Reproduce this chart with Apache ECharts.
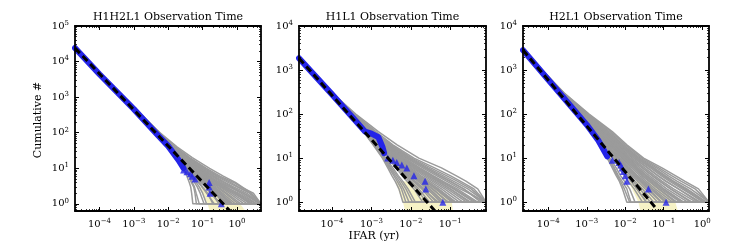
<!DOCTYPE html>
<html><head><meta charset="utf-8">
<script src="https://cdn.jsdelivr.net/npm/echarts@6/dist/echarts.min.js"></script>
<style>html,body{margin:0;padding:0;background:#fff}#c{width:747px;height:249px}</style>
</head><body><div id="c"></div>
<script>
// ---------------- data ----------------
const titles = ['H1H2L1 Observation Time', 'H1L1 Observation Time', 'H2L1 Observation Time'];
const yName = 'Cumulative #';
const xName = 'IFAR (yr)';

// axis ranges
const xRange1 = [1.94e-5, 5.0], yRange1 = [0.63, 1e5];
const xRange2 = [1.45e-5, 0.81], yRange2 = [0.63, 1e4];
const xRange3 = [2.2e-5, 1.5], yRange3 = [0.63, 1e4];

// major tick labels
const xTicks1 = [1e-4, 1e-3, 1e-2, 1e-1, 1];
const xTicks2 = [1e-4, 1e-3, 1e-2, 1e-1];
const xTicks3 = [1e-4, 1e-3, 1e-2, 1e-1, 1];
const yTicks1 = [1, 10, 100, 1e3, 1e4, 1e5];
const yTicks2 = [1, 10, 100, 1e3, 1e4];
const yTicks3 = [1, 10, 100, 1e3, 1e4];

// background trials (gray): cumulative counts and IFAR values per trial
const grayN1 = [24000, 1000, 100, 40, 20, 10, 6, 4, 3, 2, 1, 1];
const grayIfar1 = [
  [1.94e-5, 4.5e-4, 4.2e-3, 0.010, 0.019, 0.027, 0.035, 0.041, 0.045, 0.048, 0.052, 5],
  [1.94e-5, 4.5e-4, 4.3e-3, 0.0105, 0.02, 0.031, 0.042, 0.05, 0.058, 0.065, 0.08, 5],
  [1.94e-5, 4.6e-4, 4.4e-3, 0.011, 0.021, 0.036, 0.05, 0.065, 0.08, 0.1, 0.13, 5],
  [1.94e-5, 4.6e-4, 4.5e-3, 0.011, 0.022, 0.04, 0.06, 0.08, 0.1, 0.14, 0.2, 5],
  [1.94e-5, 4.6e-4, 4.5e-3, 0.0115, 0.023, 0.043, 0.07, 0.1, 0.13, 0.18, 0.3, 5],
  [1.94e-5, 4.6e-4, 4.6e-3, 0.0115, 0.023, 0.046, 0.075, 0.11, 0.15, 0.22, 0.45, 5],
  [1.94e-5, 4.6e-4, 4.6e-3, 0.012, 0.024, 0.05, 0.085, 0.13, 0.18, 0.3, 0.6, 5],
  [1.94e-5, 4.6e-4, 4.7e-3, 0.012, 0.025, 0.055, 0.1, 0.16, 0.22, 0.38, 0.9, 5],
  [1.94e-5, 4.7e-4, 4.8e-3, 0.0125, 0.027, 0.06, 0.11, 0.19, 0.28, 0.5, 1.3, 5],
  [1.94e-5, 4.7e-4, 4.9e-3, 0.013, 0.029, 0.07, 0.13, 0.23, 0.35, 0.7, 2.0, 5],
  [1.94e-5, 4.7e-4, 5.0e-3, 0.0135, 0.031, 0.08, 0.16, 0.3, 0.5, 1.0, 3.0, 5],
  [1.94e-5, 4.8e-4, 5.2e-3, 0.014, 0.034, 0.09, 0.2, 0.4, 0.7, 1.5, 4.5, 5],
  [1.94e-5, 4.8e-4, 5.4e-3, 0.015, 0.037, 0.11, 0.25, 0.55, 1.0, 2.3, 5, 5],
  [1.94e-5, 4.9e-4, 5.6e-3, 0.016, 0.042, 0.13, 0.32, 0.8, 1.3, 3.0, 5, 5],
  [1.94e-5, 5.0e-4, 5.8e-3, 0.018, 0.05, 0.16, 0.4, 0.9, 1.4, 2.6, 5, 5],
  [1.94e-5, 4.6e-4, 4.4e-3, 0.0105, 0.02, 0.038, 0.065, 0.1, 0.16, 0.3, 0.7, 5],
  [1.94e-5, 4.7e-4, 4.8e-3, 0.012, 0.026, 0.052, 0.08, 0.12, 0.17, 0.25, 0.38, 5],
  [1.94e-5, 4.7e-4, 4.9e-3, 0.0125, 0.028, 0.065, 0.14, 0.3, 0.6, 1.6, 5, 5],
  [1.94e-5, 4.6e-4, 4.5e-3, 0.011, 0.022, 0.045, 0.09, 0.18, 0.35, 0.9, 2.5, 5],
  [1.94e-5, 4.6e-4, 4.6e-3, 0.0115, 0.024, 0.058, 0.12, 0.25, 0.45, 1.1, 3.5, 5],
  [1.94e-5, 4.5e-4, 4.3e-3, 0.0105, 0.02, 0.033, 0.046, 0.058, 0.07, 0.085, 0.11, 5],
  [1.94e-5, 4.6e-4, 4.4e-3, 0.011, 0.021, 0.038, 0.055, 0.075, 0.095, 0.13, 0.22, 5],
  [1.94e-5, 4.6e-4, 4.5e-3, 0.0112, 0.022, 0.042, 0.065, 0.09, 0.12, 0.17, 0.35, 5],
  [1.94e-5, 4.6e-4, 4.6e-3, 0.0118, 0.024, 0.048, 0.08, 0.12, 0.16, 0.26, 0.5, 5],
  [1.94e-5, 4.7e-4, 4.7e-3, 0.012, 0.025, 0.053, 0.095, 0.15, 0.21, 0.34, 0.75, 5],
  [1.94e-5, 4.7e-4, 4.8e-3, 0.0125, 0.026, 0.058, 0.105, 0.17, 0.25, 0.45, 1.1, 5],
  [1.94e-5, 4.7e-4, 4.9e-3, 0.013, 0.028, 0.062, 0.12, 0.21, 0.32, 0.6, 1.6, 5],
  [1.94e-5, 4.8e-4, 5.0e-3, 0.0135, 0.03, 0.075, 0.15, 0.27, 0.42, 0.85, 2.4, 5],
  [1.94e-5, 4.8e-4, 5.1e-3, 0.014, 0.033, 0.085, 0.18, 0.35, 0.6, 1.3, 3.8, 5],
  [1.94e-5, 4.9e-4, 5.3e-3, 0.0145, 0.036, 0.1, 0.22, 0.45, 0.8, 1.9, 5, 5],
  [1.94e-5, 4.9e-4, 5.5e-3, 0.0155, 0.04, 0.12, 0.28, 0.65, 1.1, 2.6, 5, 5],
  [1.94e-5, 4.5e-4, 4.2e-3, 0.0102, 0.019, 0.029, 0.04, 0.047, 0.055, 0.06, 0.066, 5],
  [1.94e-5, 4.6e-4, 4.5e-3, 0.0113, 0.0225, 0.044, 0.068, 0.095, 0.14, 0.24, 0.55, 5],
  [1.94e-5, 4.7e-4, 4.7e-3, 0.0122, 0.025, 0.054, 0.09, 0.14, 0.19, 0.32, 0.65, 5],
  [1.94e-5, 4.8e-4, 5.0e-3, 0.0132, 0.03, 0.068, 0.13, 0.24, 0.4, 0.8, 2.8, 5]
];
const grayN2 = [1860, 300, 100, 40, 20, 10, 6, 4, 3, 2, 1, 1];
const grayIfar2 = [
  [1.45e-5, 8.8e-5, 2.6e-4, 6.2e-4, 1.1e-3, 1.9e-3, 2.6e-3, 3.3e-3, 4.0e-3, 5.0e-3, 6.3e-3, 0.81],
  [1.45e-5, 8.8e-5, 2.6e-4, 6.4e-4, 1.2e-3, 2.1e-3, 3.0e-3, 4.0e-3, 5.0e-3, 6.5e-3, 9e-3, 0.81],
  [1.45e-5, 8.9e-5, 2.7e-4, 6.6e-4, 1.25e-3, 2.3e-3, 3.5e-3, 4.8e-3, 6.2e-3, 8.5e-3, 0.013, 0.81],
  [1.45e-5, 9e-5, 2.7e-4, 6.8e-4, 1.35e-3, 2.6e-3, 4.2e-3, 6.0e-3, 8e-3, 0.012, 0.02, 0.81],
  [1.45e-5, 9e-5, 2.75e-4, 7e-4, 1.4e-3, 2.9e-3, 4.8e-3, 7.5e-3, 0.01, 0.016, 0.03, 0.81],
  [1.45e-5, 9e-5, 2.8e-4, 7.2e-4, 1.5e-3, 3.2e-3, 5.5e-3, 9e-3, 0.013, 0.022, 0.045, 0.81],
  [1.45e-5, 9.1e-5, 2.85e-4, 7.5e-4, 1.6e-3, 3.6e-3, 6.5e-3, 0.011, 0.017, 0.03, 0.07, 0.81],
  [1.45e-5, 9.2e-5, 2.9e-4, 8e-4, 1.75e-3, 4.1e-3, 8e-3, 0.014, 0.022, 0.042, 0.11, 0.81],
  [1.45e-5, 9.3e-5, 3e-4, 8.5e-4, 1.9e-3, 4.8e-3, 0.01, 0.018, 0.03, 0.06, 0.17, 0.81],
  [1.45e-5, 9.4e-5, 3.1e-4, 9e-4, 2.1e-3, 5.6e-3, 0.012, 0.024, 0.04, 0.085, 0.26, 0.81],
  [1.45e-5, 9.5e-5, 3.2e-4, 9.6e-4, 2.3e-3, 6.5e-3, 0.015, 0.032, 0.055, 0.12, 0.4, 0.81],
  [1.45e-5, 9.6e-5, 3.3e-4, 1.05e-3, 2.6e-3, 7.8e-3, 0.02, 0.045, 0.08, 0.18, 0.81, 0.81],
  [1.45e-5, 9.8e-5, 3.5e-4, 1.15e-3, 3e-3, 9.5e-3, 0.027, 0.065, 0.12, 0.28, 0.81, 0.81],
  [1.45e-5, 1e-4, 3.7e-4, 1.3e-3, 3.5e-3, 0.012, 0.04, 0.1, 0.18, 0.4, 0.81, 0.81],
  [1.45e-5, 1.02e-4, 4e-4, 1.5e-3, 4.5e-3, 0.016, 0.06, 0.14, 0.25, 0.5, 0.81, 0.81],
  [1.45e-5, 9.1e-5, 2.8e-4, 7.4e-4, 1.6e-3, 3.9e-3, 7.5e-3, 0.013, 0.02, 0.035, 0.09, 0.81],
  [1.45e-5, 9.2e-5, 3e-4, 8.2e-4, 1.8e-3, 4.5e-3, 9e-3, 0.016, 0.025, 0.05, 0.13, 0.81],
  [1.45e-5, 9.4e-5, 3.1e-4, 9.2e-4, 2.2e-3, 6e-3, 0.014, 0.028, 0.05, 0.1, 0.3, 0.81],
  [1.45e-5, 9e-5, 2.75e-4, 7e-4, 1.45e-3, 3e-3, 5e-3, 8e-3, 0.012, 0.02, 0.05, 0.81],
  [1.45e-5, 9.6e-5, 3.4e-4, 1.1e-3, 2.8e-3, 8.5e-3, 0.024, 0.055, 0.1, 0.22, 0.6, 0.81],
  [1.45e-5, 8.9e-5, 2.65e-4, 6.5e-4, 1.22e-3, 2.2e-3, 3.2e-3, 4.4e-3, 5.6e-3, 7.5e-3, 0.011, 0.81],
  [1.45e-5, 9e-5, 2.72e-4, 6.9e-4, 1.38e-3, 2.75e-3, 4.5e-3, 6.8e-3, 9e-3, 0.014, 0.025, 0.81],
  [1.45e-5, 9e-5, 2.78e-4, 7.1e-4, 1.45e-3, 3.05e-3, 5.2e-3, 8.2e-3, 0.0115, 0.019, 0.038, 0.81],
  [1.45e-5, 9.1e-5, 2.82e-4, 7.3e-4, 1.55e-3, 3.4e-3, 6e-3, 0.01, 0.015, 0.026, 0.058, 0.81],
  [1.45e-5, 9.2e-5, 2.88e-4, 7.8e-4, 1.7e-3, 3.8e-3, 7.2e-3, 0.0125, 0.019, 0.036, 0.085, 0.81],
  [1.45e-5, 9.3e-5, 2.95e-4, 8.3e-4, 1.85e-3, 4.4e-3, 8.8e-3, 0.016, 0.026, 0.05, 0.14, 0.81],
  [1.45e-5, 9.3e-5, 3.05e-4, 8.8e-4, 2e-3, 5.2e-3, 0.011, 0.021, 0.035, 0.072, 0.21, 0.81],
  [1.45e-5, 9.4e-5, 3.15e-4, 9.3e-4, 2.2e-3, 6e-3, 0.013, 0.027, 0.046, 0.1, 0.33, 0.81],
  [1.45e-5, 9.5e-5, 3.25e-4, 1e-3, 2.45e-3, 7e-3, 0.017, 0.037, 0.065, 0.15, 0.5, 0.81],
  [1.45e-5, 9.7e-5, 3.4e-4, 1.1e-3, 2.75e-3, 8.6e-3, 0.023, 0.052, 0.095, 0.22, 0.7, 0.81],
  [1.45e-5, 9.9e-5, 3.6e-4, 1.2e-3, 3.2e-3, 0.0105, 0.032, 0.08, 0.15, 0.34, 0.81, 0.81],
  [1.45e-5, 8.8e-5, 2.6e-4, 6.3e-4, 1.15e-3, 2e-3, 2.8e-3, 3.7e-3, 4.5e-3, 5.8e-3, 7.5e-3, 0.81],
  [1.45e-5, 9e-5, 2.75e-4, 7.05e-4, 1.42e-3, 3e-3, 5.8e-3, 0.0105, 0.017, 0.03, 0.065, 0.81],
  [1.45e-5, 9.2e-5, 2.9e-4, 8e-4, 1.8e-3, 4.3e-3, 8.5e-3, 0.015, 0.024, 0.045, 0.12, 0.81],
  [1.45e-5, 9.5e-5, 3.2e-4, 9.8e-4, 2.4e-3, 6.8e-3, 0.016, 0.034, 0.06, 0.13, 0.45, 0.81]
];
const grayN3 = [2840, 300, 100, 40, 20, 10, 6, 4, 3, 2, 1, 1];
const grayIfar3 = [
  [2.2e-5, 2e-4, 5.8e-4, 1.3e-3, 2.2e-3, 3.4e-3, 4.6e-3, 5.8e-3, 7e-3, 8.5e-3, 0.011, 1.5],
  [2.2e-5, 2e-4, 5.9e-4, 1.35e-3, 2.4e-3, 4e-3, 5.8e-3, 7.5e-3, 9.5e-3, 0.013, 0.018, 1.5],
  [2.2e-5, 2e-4, 6e-4, 1.4e-3, 2.6e-3, 4.6e-3, 7e-3, 9.5e-3, 0.012, 0.017, 0.028, 1.5],
  [2.2e-5, 2e-4, 6.1e-4, 1.45e-3, 2.8e-3, 5.2e-3, 8.5e-3, 0.012, 0.016, 0.024, 0.045, 1.5],
  [2.2e-5, 2.05e-4, 6.3e-4, 1.55e-3, 3.1e-3, 6e-3, 0.01, 0.015, 0.021, 0.033, 0.07, 1.5],
  [2.2e-5, 2.1e-4, 6.5e-4, 1.7e-3, 3.5e-3, 7e-3, 0.012, 0.019, 0.027, 0.045, 0.11, 1.5],
  [2.2e-5, 2.15e-4, 6.8e-4, 1.85e-3, 4e-3, 8.3e-3, 0.015, 0.024, 0.035, 0.06, 0.17, 1.5],
  [2.2e-5, 2.2e-4, 7.2e-4, 2.05e-3, 4.6e-3, 0.01, 0.019, 0.031, 0.047, 0.085, 0.27, 1.5],
  [2.2e-5, 2.25e-4, 7.6e-4, 2.3e-3, 5.3e-3, 0.012, 0.024, 0.042, 0.065, 0.12, 0.42, 1.5],
  [2.2e-5, 2.3e-4, 8.2e-4, 2.6e-3, 6.2e-3, 0.015, 0.032, 0.058, 0.09, 0.18, 0.7, 1.5],
  [2.2e-5, 2.4e-4, 9e-4, 3.1e-3, 7.5e-3, 0.019, 0.045, 0.085, 0.14, 0.3, 1.1, 1.5],
  [2.2e-5, 2.5e-4, 1e-3, 3.8e-3, 9e-3, 0.024, 0.065, 0.13, 0.22, 0.5, 1.5, 1.5],
  [2.2e-5, 2.6e-4, 1.15e-3, 4.6e-3, 0.011, 0.03, 0.09, 0.2, 0.35, 0.8, 1.5, 1.5],
  [2.2e-5, 2.1e-4, 6.4e-4, 1.6e-3, 3.3e-3, 6.6e-3, 0.011, 0.017, 0.025, 0.04, 0.09, 1.5],
  [2.2e-5, 2.2e-4, 7e-4, 1.95e-3, 4.3e-3, 9e-3, 0.017, 0.028, 0.042, 0.075, 0.22, 1.5],
  [2.2e-5, 2.3e-4, 7.9e-4, 2.45e-3, 5.8e-3, 0.013, 0.028, 0.05, 0.078, 0.15, 0.55, 1.5],
  [2.2e-5, 2.35e-4, 8.6e-4, 2.8e-3, 6.8e-3, 0.017, 0.038, 0.07, 0.11, 0.24, 0.9, 1.5],
  [2.2e-5, 2e-4, 6e-4, 1.42e-3, 2.7e-3, 5e-3, 7.8e-3, 0.011, 0.014, 0.02, 0.035, 1.5],
  [2.2e-5, 2.2e-4, 7.4e-4, 2.2e-3, 5e-3, 0.011, 0.021, 0.036, 0.055, 0.1, 0.33, 1.5],
  [2.2e-5, 2.45e-4, 9.5e-4, 3.4e-3, 8.2e-3, 0.021, 0.055, 0.11, 0.18, 0.4, 1.3, 1.5],
  [2.2e-5, 2e-4, 5.85e-4, 1.32e-3, 2.3e-3, 3.7e-3, 5.2e-3, 6.6e-3, 8.2e-3, 0.011, 0.014, 1.5],
  [2.2e-5, 2e-4, 6e-4, 1.42e-3, 2.7e-3, 4.9e-3, 7.6e-3, 0.011, 0.014, 0.02, 0.036, 1.5],
  [2.2e-5, 2.05e-4, 6.2e-4, 1.5e-3, 2.95e-3, 5.6e-3, 9.2e-3, 0.0135, 0.018, 0.028, 0.055, 1.5],
  [2.2e-5, 2.08e-4, 6.4e-4, 1.62e-3, 3.3e-3, 6.5e-3, 0.011, 0.017, 0.024, 0.038, 0.085, 1.5],
  [2.2e-5, 2.12e-4, 6.6e-4, 1.78e-3, 3.8e-3, 7.6e-3, 0.0135, 0.021, 0.031, 0.052, 0.14, 1.5],
  [2.2e-5, 2.18e-4, 7e-4, 1.95e-3, 4.3e-3, 9.2e-3, 0.017, 0.027, 0.041, 0.072, 0.2, 1.5],
  [2.2e-5, 2.22e-4, 7.4e-4, 2.18e-3, 4.9e-3, 0.011, 0.021, 0.036, 0.056, 0.1, 0.32, 1.5],
  [2.2e-5, 2.28e-4, 7.9e-4, 2.45e-3, 5.7e-3, 0.0135, 0.028, 0.05, 0.078, 0.15, 0.5, 1.5],
  [2.2e-5, 2.35e-4, 8.5e-4, 2.85e-3, 6.8e-3, 0.017, 0.038, 0.07, 0.115, 0.24, 0.8, 1.5],
  [2.2e-5, 2.45e-4, 9.5e-4, 3.4e-3, 8.2e-3, 0.022, 0.055, 0.1, 0.17, 0.38, 1.2, 1.5],
  [2.2e-5, 2.55e-4, 1.08e-3, 4.2e-3, 0.01, 0.027, 0.075, 0.16, 0.28, 0.65, 1.5, 1.5],
  [2.2e-5, 2e-4, 5.8e-4, 1.3e-3, 2.25e-3, 3.6e-3, 5e-3, 6.2e-3, 7.5e-3, 9.5e-3, 0.013, 1.5],
  [2.2e-5, 2.1e-4, 6.5e-4, 1.68e-3, 3.45e-3, 6.9e-3, 0.012, 0.019, 0.028, 0.048, 0.12, 1.5],
  [2.2e-5, 2.2e-4, 7.2e-4, 2.1e-3, 4.7e-3, 0.0105, 0.02, 0.034, 0.052, 0.095, 0.3, 1.5],
  [2.2e-5, 2.4e-4, 9.2e-4, 3.2e-3, 7.8e-3, 0.02, 0.05, 0.095, 0.16, 0.34, 1.05, 1.5]
];

// foreground (blue): dense part drawn as a band, sparse loud events as triangles
const blueBandX1 = [1.94e-5, 1e-4, 1e-3, 5e-3, 0.01, 0.02, 0.028];
const blueBandY1 = [24000, 4400, 460, 85, 42, 17, 10];
const blueTriX1 = [0.028, 0.035, 0.044, 0.05, 0.06, 0.155, 0.155, 0.165, 0.35];
const blueTriY1 = [9, 8, 7, 6, 5, 4, 3, 2, 1];

const blueBandX2 = [1.45e-5, 1e-4, 4e-4, 6.9e-4, 1e-3, 1.5e-3, 1.9e-3, 2.1e-3];
const blueBandY2 = [1860, 280, 70, 40, 36, 30, 18, 13];
const blueTriX2 = [2.6e-3, 3.5e-3, 4.4e-3, 5.9e-3, 7.9e-3, 0.012, 0.023, 0.024, 0.065];
const blueTriY2 = [10, 9, 8, 7, 6, 4, 3, 2, 1];

const blueBandX3 = [2.2e-5, 1e-4, 1e-3, 2e-3, 3.4e-3];
const blueBandY3 = [2840, 600, 57, 25, 11];
const blueTriX3 = [4.6e-3, 6.9e-3, 7.6e-3, 8.3e-3, 8.9e-3, 0.01, 0.011, 0.04, 0.115];
const blueTriY3 = [9, 8, 7, 6, 5, 4, 3, 2, 1];

// expected background (black dashed)
const dashX1 = [1.94e-5, 0.63], dashY1 = [24000, 0.63];
const dashX2 = [1.45e-5, 0.041], dashY2 = [1860, 0.63];
const dashX3 = [2.2e-5, 0.072], dashY3 = [2840, 0.63];

// expected-background error band (pale yellow), polygon vertices [ifar, count]
const bandX1 = [0.08, 0.14, 0.2, 3.2, 1.22, 0.4];
const bandY1 = [3, 1, 0.3, 0.3, 1, 3];
const bandX2 = [0.004, 6.3e-3, 0.009, 0.13, 0.11, 0.03];
const bandY2 = [3, 1, 0.3, 0.3, 1, 3];
const bandX3 = [0.012, 0.022, 0.03, 0.3, 0.2, 0.06];
const bandY3 = [3, 1, 0.3, 0.3, 1, 3];

// ---------------- chart ----------------
const FONT = 'DejaVu Serif';
const BLUE = '#2424e8';
const panels = [
  {left: 75, width: 186, xr: xRange1, yr: yRange1, xt: xTicks1, yt: yTicks1, gN: grayN1, gI: grayIfar1,
   bbx: blueBandX1, bby: blueBandY1, tx: blueTriX1, ty: blueTriY1, dx: dashX1, dy: dashY1, px: bandX1, py: bandY1},
  {left: 299, width: 187, xr: xRange2, yr: yRange2, xt: xTicks2, yt: yTicks2, gN: grayN2, gI: grayIfar2,
   bbx: blueBandX2, bby: blueBandY2, tx: blueTriX2, ty: blueTriY2, dx: dashX2, dy: dashY2, px: bandX2, py: bandY2},
  {left: 523, width: 186, xr: xRange3, yr: yRange3, xt: xTicks3, yt: yTicks3, gN: grayN3, gI: grayIfar3,
   bbx: blueBandX3, bby: blueBandY3, tx: blueTriX3, ty: blueTriY3, dx: dashX3, dy: dashY3, px: bandX3, py: bandY3}
];
const TOP = 26, HEIGHT = 185;

function minors(lo, hi) {
  const out = [];
  for (let e = Math.floor(Math.log10(lo)); e <= Math.ceil(Math.log10(hi)); e++) {
    for (let k = 2; k <= 9; k++) {
      const v = k * Math.pow(10, e);
      if (v > lo * 1.0001 && v < hi * 0.9999) out.push(v);
    }
  }
  return out;
}
function fmt(v) {
  const e = Math.round(Math.log10(v));
  return '{b|10}{s|' + (e < 0 ? '\u2212' + (-e) : e) + '}';
}
const rich = {
  b: {fontFamily: FONT, fontSize: 10, color: '#000', lineHeight: 13},
  s: {fontFamily: FONT, fontSize: 7, color: '#000', lineHeight: 7, verticalAlign: 'top'}
};
const zip = (a, b) => a.map((v, i) => [v, b[i]]);

const grids = [], xAxes = [], yAxes = [], series = [];
panels.forEach((p, gi) => {
  grids.push({left: p.left, top: TOP, width: p.width, height: HEIGHT, outerBoundsMode: 'none'});
  const xMin = minors(p.xr[0], p.xr[1]);
  const yMin = minors(p.yr[0], p.yr[1]);
  const baseX = {gridIndex: gi, type: 'log', logBase: 10, min: p.xr[0], max: p.xr[1], splitLine: {show: false}, z: 10};
  const baseY = {gridIndex: gi, type: 'log', logBase: 10, min: p.yr[0], max: p.yr[1], splitLine: {show: false}, z: 10};
  const line = {show: true, onZero: false, lineStyle: {color: '#000', width: 1.8}};
  const majT = (vals) => ({show: true, inside: true, length: 4, customValues: vals, lineStyle: {color: '#000', width: 1}});
  const minT = (vals) => ({show: true, inside: true, length: 2, customValues: vals, lineStyle: {color: '#000', width: 0.8}});
  xAxes.push(Object.assign({}, baseX, {position: 'bottom', axisLine: line, axisTick: majT(p.xt),
    axisLabel: {show: true, customValues: p.xt, formatter: fmt, rich: rich, margin: 7}}));
  xAxes.push(Object.assign({}, baseX, {position: 'bottom', axisLine: {show: false}, axisTick: minT(xMin),
    axisLabel: {show: false, customValues: xMin}}));
  xAxes.push(Object.assign({}, baseX, {position: 'top', axisLine: line, axisTick: majT(p.xt),
    axisLabel: {show: false, customValues: p.xt}}));
  xAxes.push(Object.assign({}, baseX, {position: 'top', axisLine: {show: false}, axisTick: minT(xMin),
    axisLabel: {show: false, customValues: xMin}}));
  yAxes.push(Object.assign({}, baseY, {position: 'left', axisLine: line, axisTick: majT(p.yt),
    axisLabel: {show: true, customValues: p.yt, formatter: fmt, rich: rich, margin: 6}}));
  yAxes.push(Object.assign({}, baseY, {position: 'left', axisLine: {show: false}, axisTick: minT(yMin),
    axisLabel: {show: false, customValues: yMin}}));
  yAxes.push(Object.assign({}, baseY, {position: 'right', axisLine: line, axisTick: majT(p.yt),
    axisLabel: {show: false, customValues: p.yt}}));
  yAxes.push(Object.assign({}, baseY, {position: 'right', axisLine: {show: false}, axisTick: minT(yMin),
    axisLabel: {show: false, customValues: yMin}}));

  const xi = gi * 4, yi = gi * 4;
  const poly = zip(p.px, p.py);
  series.push({
    type: 'custom', xAxisIndex: xi, yAxisIndex: yi, clip: true, silent: true, z: 1,
    data: poly,
    renderItem: function (params, api) {
      if (params.dataIndex !== 0) return null;
      return {type: 'polygon', shape: {points: poly.map(pt => api.coord(pt))},
              style: {fill: '#f6f2c6', stroke: null}};
    }
  });
  p.gI.forEach(arr => {
    series.push({type: 'line', xAxisIndex: xi, yAxisIndex: yi, data: zip(arr, p.gN), showSymbol: false,
      symbol: 'none', silent: true, z: 2, lineStyle: {color: '#9b9b9b', width: 1.5}});
  });
  series.push({type: 'line', xAxisIndex: xi, yAxisIndex: yi, data: zip(p.bbx, p.bby), symbol: 'none',
    silent: true, z: 3, lineStyle: {color: BLUE, width: 6, cap: 'round', join: 'round'}});
  series.push({type: 'scatter', xAxisIndex: xi, yAxisIndex: yi, data: zip(p.tx, p.ty), symbol: 'triangle',
    symbolSize: 7, silent: true, z: 3, itemStyle: {color: BLUE}});
  series.push({type: 'line', xAxisIndex: xi, yAxisIndex: yi, data: zip(p.dx, p.dy), symbol: 'none',
    silent: true, z: 4, lineStyle: {color: '#000', width: 3, type: [7, 4]}});
});

const graphic = [
  {type: 'text', x: 168, y: 17, style: {text: titles[0], fontFamily: FONT, fontSize: 11, fill: '#000', align: 'center', verticalAlign: 'middle'}},
  {type: 'text', x: 392.5, y: 17, style: {text: titles[1], fontFamily: FONT, fontSize: 11, fill: '#000', align: 'center', verticalAlign: 'middle'}},
  {type: 'text', x: 616, y: 17, style: {text: titles[2], fontFamily: FONT, fontSize: 11, fill: '#000', align: 'center', verticalAlign: 'middle'}},
  {type: 'text', x: 38, y: 120, rotation: Math.PI / 2, style: {text: yName, fontFamily: FONT, fontSize: 11, fill: '#000', align: 'center', verticalAlign: 'middle'}},
  {type: 'text', x: 374, y: 236, style: {text: xName, fontFamily: FONT, fontSize: 11, fill: '#000', align: 'center', verticalAlign: 'middle'}}
];

const chart = echarts.init(document.getElementById('c'), null, {renderer: 'canvas'});
chart.setOption({
  backgroundColor: '#fff',
  animation: false,
  grid: grids,
  xAxis: xAxes,
  yAxis: yAxes,
  series: series,
  graphic: graphic
});
</script>
</body></html>
